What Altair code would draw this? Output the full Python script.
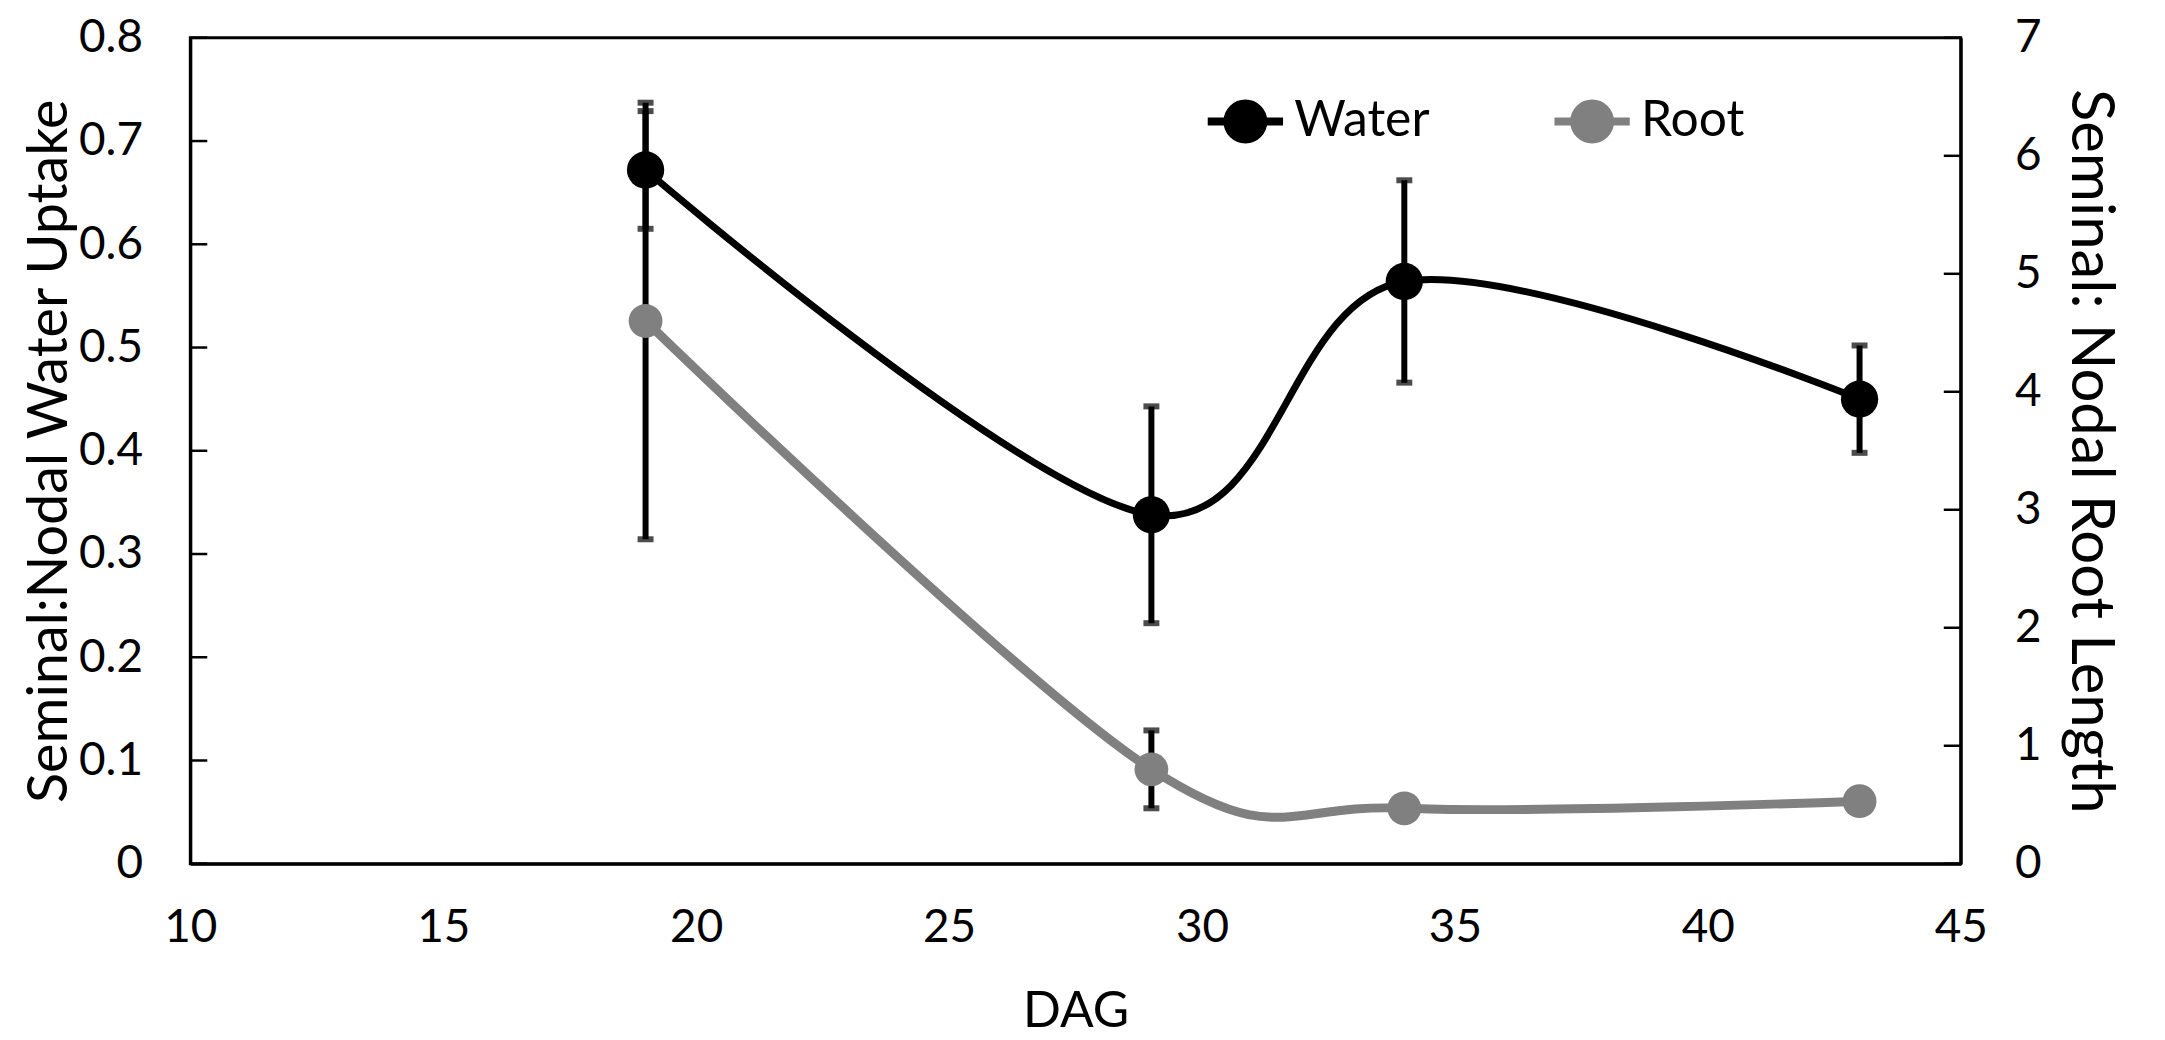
import altair as alt
import pandas as pd

# ---- data ----
dag = [19, 29, 34, 43]
water = [0.672, 0.338, 0.564, 0.450]
water_err = [0.057, 0.105, 0.098, 0.052]
root = [4.60, 0.80, 0.47, 0.53]
root_err = [1.85, 0.33, 0.04, 0.04]

left_ticks = [0, 0.1, 0.2, 0.3, 0.4, 0.5, 0.6, 0.7, 0.8]
right_ticks = [0, 1, 2, 3, 4, 5, 6, 7]
x_ticks = [10, 15, 20, 25, 30, 35, 40, 45]

series_names = ["Water", "Root"]
series_colors = ["#000000", "#808080"]

W, H = 1777, 829
FONT = "Lato"
FS = 46

wdf = pd.DataFrame({"DAG": dag, "v": water, "lo": [a - b for a, b in zip(water, water_err)],
                    "hi": [a + b for a, b in zip(water, water_err)], "series": "Water"})
rdf = pd.DataFrame({"DAG": dag, "v": root, "lo": [a - b for a, b in zip(root, root_err)],
                    "hi": [a + b for a, b in zip(root, root_err)], "series": "Root"})
ltdf = pd.DataFrame({"t": left_ticks})
rtdf = pd.DataFrame({"t": right_ticks})

axis_style = dict(labelFont=FONT, labelFontSize=FS, labelColor="black",
                  titleFont=FONT, titleColor="black", titleFontWeight="normal",
                  grid=False, domainColor="black", domainWidth=3, tickSize=0, labelFlush=False)

xscale = alt.Scale(domain=[10, 45], nice=False, zero=False)
xaxis = alt.Axis(values=x_ticks, title="DAG", labelPadding=42, titlePadding=36, titleFontSize=50,
                 format="d", **axis_style)
X = alt.X("DAG:Q", scale=xscale, axis=xaxis)

lscale = alt.Scale(domain=[0, 0.8], nice=False, zero=True)
rscale = alt.Scale(domain=[0, 7], nice=False, zero=True)
laxis = alt.Axis(values=left_ticks, title="Seminal:Nodal Water Uptake", labelPadding=48, titlePadding=0,
                 titleFontSize=56,
                 labelExpr="datum.value == 0 ? '0' : format(datum.value, '.1f')", **axis_style)
raxis = alt.Axis(values=right_ticks, title="Seminal: Nodal Root Length", labelPadding=54, titlePadding=18,
                 titleFontSize=60, orient="right", format="d", **axis_style)

legend_color = alt.Color("series:N", scale=alt.Scale(domain=series_names, range=series_colors),
                         legend=alt.Legend(
                             title=None, orient="none", legendX=1034, legendY=59, direction="horizontal",
                             columns=2, columnPadding=109, padding=0,
                             symbolType="M-2.1,0H2.1M-1,0A1,1 0 1,1 1,0A1,1 0 1,1 -1,0Z",
                             symbolSize=1296, symbolStrokeWidth=8,
                             labelFont=FONT, labelFontSize=50, labelColor="black", labelOffset=24,
                             symbolOpacity=1))
plain_color = alt.Color("series:N", legend=None,
                        scale=alt.Scale(domain=series_names, range=series_colors))

# ---- water group (left axis) ----
w_base = alt.Chart(wdf)
w_err = w_base.mark_rule(color="black", strokeWidth=6).encode(
    x=X, y=alt.Y("lo:Q", scale=lscale, axis=laxis), y2="hi:Q")
w_cap_hi = w_base.mark_tick(color="black", thickness=6, size=16, orient="horizontal").encode(
    x=X, y=alt.Y("hi:Q", scale=lscale))
w_cap_lo = w_base.mark_tick(color="black", thickness=6, size=16, orient="horizontal").encode(
    x=X, y=alt.Y("lo:Q", scale=lscale))
w_line = w_base.mark_line(interpolate="cardinal", tension=0, strokeWidth=7).encode(
    x=X, y=alt.Y("v:Q", scale=lscale), color=legend_color)
w_pts = w_base.mark_circle(size=1400, opacity=1).encode(
    x=X, y=alt.Y("v:Q", scale=lscale), color=plain_color)
l_ticks = alt.Chart(ltdf).mark_rule(color="black", strokeWidth=2.5).encode(
    y=alt.Y("t:Q", scale=lscale), x=alt.value(0), x2=alt.value(17))
water_group = alt.layer(l_ticks, w_err, w_cap_hi, w_cap_lo, w_line, w_pts)

# ---- root group (right axis) ----
r_base = alt.Chart(rdf)
r_err = r_base.mark_rule(color="black", strokeWidth=6).encode(
    x=X, y=alt.Y("lo:Q", scale=rscale, axis=raxis), y2="hi:Q")
r_cap_hi = r_base.mark_tick(color="black", thickness=6, size=16, orient="horizontal").encode(
    x=X, y=alt.Y("hi:Q", scale=rscale))
r_cap_lo = r_base.mark_tick(color="black", thickness=6, size=16, orient="horizontal").encode(
    x=X, y=alt.Y("lo:Q", scale=rscale))
r_line = r_base.mark_line(interpolate="cardinal", tension=0, strokeWidth=9).encode(
    x=X, y=alt.Y("v:Q", scale=rscale), color=legend_color)
r_pts = r_base.mark_circle(size=1150, opacity=1).encode(
    x=X, y=alt.Y("v:Q", scale=rscale), color=plain_color)
r_ticks = alt.Chart(rtdf).mark_rule(color="black", strokeWidth=2.5).encode(
    y=alt.Y("t:Q", scale=rscale), x=alt.value(W - 17), x2=alt.value(W))
root_group = alt.layer(r_ticks, r_err, r_cap_hi, r_cap_lo, r_line, r_pts)

chart = alt.layer(root_group, water_group).resolve_scale(y="independent").properties(
    width=W, height=H,
    background="white",
    autosize=alt.AutoSizeParams(type="none"),
    padding={"left": 183, "top": 28, "right": 197, "bottom": 175},
).configure_view(stroke="black", strokeWidth=3)

chart.save("out.html", embed_options={"renderer": "svg", "actions": False})
